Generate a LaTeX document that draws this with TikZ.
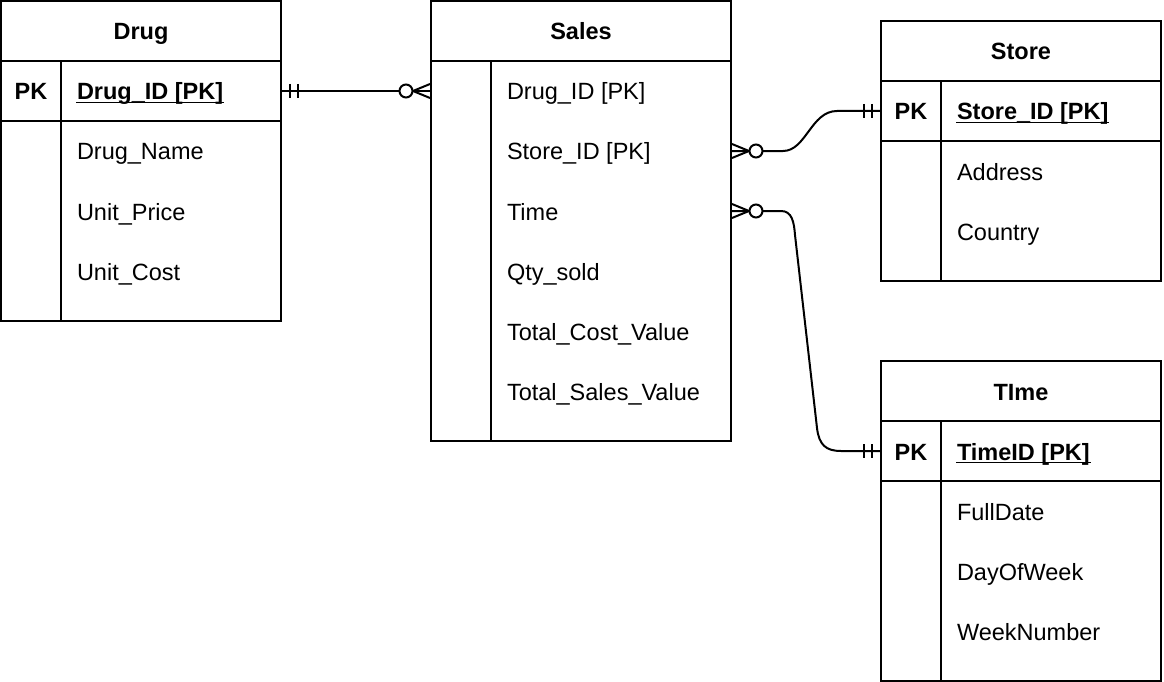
\documentclass[tikz,border=0pt]{standalone}
\usepackage{fontspec}
\setmainfont{Liberation Sans}
\usetikzlibrary{positioning}

\tikzset{
  tbl/.style={draw, inner sep=0pt},
  txt/.style={inner sep=0pt, text height=22pt, text depth=4pt,
    font=\fontsize{23.5}{28}\selectfont},
  ttl/.style={txt, font=\bfseries\fontsize{23.5}{28}\selectfont},
  fld/.style={txt, anchor=west},
  key/.style={ttl, anchor=west},
  uline/.style={line width=1.5pt},
}

\begin{document}
\begin{tikzpicture}[x=1pt,y=-1pt,line width=2pt]
  \useasboundingbox (0,0) rectangle (1164,682);

  % Drug
  \node[tbl, minimum width=280pt, minimum height=320pt] (drug) at (141,161) {};
  \draw (1,61) -- (281,61) (1,121) -- (281,121) (61,61) -- (61,321);
  \node[ttl] (drugttl) at (141,31) {Drug};
  \node[ttl] (drugpk) at (31,91) {PK};
  \node[key] (drugid) at (76,91) {Drug\_ID [PK]};
  \draw[uline] ([yshift=2.5pt]drugid.south west) -- ([yshift=2.5pt]drugid.south east);
  \node[fld] (drugname) at (76,151) {Drug\_Name};
  \node[fld] (unitprice) at (76,211) {Unit\_Price};
  \node[fld] (unitcost) at (76,271) {Unit\_Cost};

  % Sales
  \node[tbl, minimum width=300pt, minimum height=440pt] (sales) at (581,221) {};
  \draw (431,61) -- (731,61) (491,61) -- (491,441);
  \node[ttl] (salesttl) at (581,31) {Sales};
  \node[fld] (sdrug) at (506,91) {Drug\_ID [PK]};
  \node[fld] (sstore) at (506,151) {Store\_ID [PK]};
  \node[fld] (stime) at (506,211) {Time};
  \node[fld] (sqty) at (506,271) {Qty\_sold};
  \node[fld] (scost) at (506,331) {Total\_Cost\_Value};
  \node[fld] (ssales) at (506,391) {Total\_Sales\_Value};

  % Store
  \node[tbl, minimum width=280pt, minimum height=260pt] (store) at (1021,151) {};
  \draw (881,81) -- (1161,81) (881,141) -- (1161,141) (941,81) -- (941,281);
  \node[ttl] (storettl) at (1021,51) {Store};
  \node[ttl] (storepk) at (911,111) {PK};
  \node[key] (storeid) at (956,111) {Store\_ID [PK]};
  \draw[uline] ([yshift=2.5pt]storeid.south west) -- ([yshift=2.5pt]storeid.south east);
  \node[fld] (address) at (956,171) {Address};
  \node[fld] (country) at (956,231) {Country};

  % Time
  \node[tbl, minimum width=280pt, minimum height=320pt] (time) at (1021,521) {};
  \draw (881,421) -- (1161,421) (881,481) -- (1161,481) (941,421) -- (941,681);
  \node[ttl] (timettl) at (1021,391) {TIme};
  \node[ttl] (timepk) at (911,451) {PK};
  \node[key] (timeid) at (956,451) {TimeID [PK]};
  \draw[uline] ([yshift=2.5pt]timeid.south west) -- ([yshift=2.5pt]timeid.south east);
  \node[fld] (fulldate) at (956,511) {FullDate};
  \node[fld] (dayofweek) at (956,571) {DayOfWeek};
  \node[fld] (weeknumber) at (956,631) {WeekNumber};

  % Drug -- Sales
  \coordinate (d1) at (drugid -| drug.east);
  \coordinate (s1) at (drugid -| sales.west);
  \draw (d1) -- (s1);
  \draw ([xshift=8pt]d1) ++(0,-7) -- ++(0,14)
        ([xshift=16pt]d1) ++(0,-7) -- ++(0,14);
  \draw ([shift={(0,-7)}]s1) -- ([xshift=-17pt]s1) -- ([shift={(0,7)}]s1);
  \draw[fill=white] ([xshift=-24pt]s1) circle (6.5pt);

  % Sales -- Store
  \coordinate (s2) at (sstore -| sales.east);
  \coordinate (t2) at (storeid -| store.west);
  \draw (s2) -- (783,151) .. controls (806,151) and (811,111) .. (837,111) -- (t2);
  \draw ([xshift=-16pt]t2) ++(0,-7) -- ++(0,14)
        ([xshift=-8pt]t2) ++(0,-7) -- ++(0,14);
  \draw ([shift={(0,-7)}]s2) -- ([xshift=17pt]s2) -- ([shift={(0,7)}]s2);
  \draw[fill=white] ([xshift=24pt]s2) circle (6.5pt);

  % Sales -- Time
  \coordinate (s3) at (stime -| sales.east);
  \coordinate (t3) at (timeid -| time.west);
  \draw (s3) -- (781,211) .. controls (792,211) and (794,222) .. (795,235)
        -- (817,428) .. controls (819,445) and (826,451) .. (841,451) -- (t3);
  \draw ([xshift=-16pt]t3) ++(0,-7) -- ++(0,14)
        ([xshift=-8pt]t3) ++(0,-7) -- ++(0,14);
  \draw ([shift={(0,-7)}]s3) -- ([xshift=17pt]s3) -- ([shift={(0,7)}]s3);
  \draw[fill=white] ([xshift=24pt]s3) circle (6.5pt);
\end{tikzpicture}
\end{document}
